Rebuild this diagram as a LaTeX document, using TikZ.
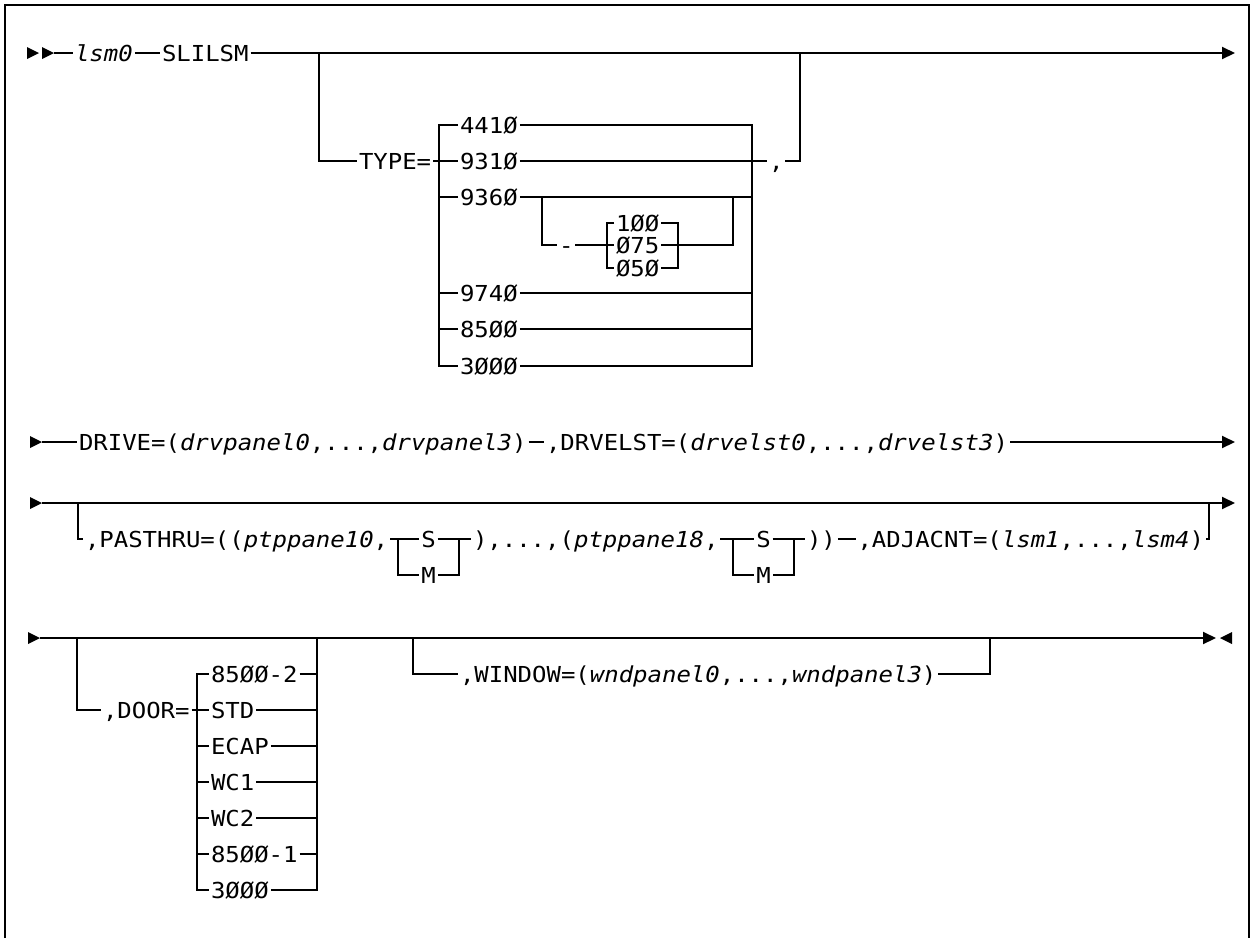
\documentclass[tikz,border=0pt]{standalone}
\usepackage{fontspec}
\usetikzlibrary{arrows.meta}
\newfontfamily\synfont[FakeStretch=1.09]{DejaVu Sans Mono}

\begin{document}
\begin{tikzpicture}[x=1pt, y=-1pt, line width=2pt,
		txt/.style={font=\synfont\fontsize{22pt}{24pt}\selectfont, inner xsep=1pt, inner ysep=0pt, text height=16pt, text depth=0pt, anchor=west},
		go/.style={-{Triangle[length=13pt,width=12pt]}},
		headmk/.pic={\fill (0,0) -- (-12,-6) -- (-12,6) -- cycle;},
		tailmk/.pic={\fill (0,0) -- (12,-6) -- (12,6) -- cycle;}]
		
		% Marco
		\useasboundingbox (0,0) rectangle (1253,938);
		\draw (5,938) |- (1249,5) -- (1249,938);
		
		% Fila 1: lsm0 SLILSM
		\pic at (39,53) {headmk};
		\pic at (54,53) {headmk};
		\coordinate (r1s) at (54,53);
		\coordinate (r1e) at (1235,53);
		\node[txt] (lsm) at (73,53) {\itshape lsm0};
		\node[txt] (slilsm) at (160,53) {SLILSM};
		\draw (r1s) -- (lsm.west);
		\draw (lsm.east) -- (slilsm.west);
		\draw[go] (slilsm.east) -- (r1e);
		
		% Rama TYPE=
		\coordinate (b1a) at (319,53);
		\coordinate (b1b) at (800,53);
		\coordinate (tl) at (439,125);
		\coordinate (tr) at (752,125);
		\node[txt] (type) at (357,161) {TYPE=};
		\foreach \lab/\yy [count=\i] in {441Ø/125,931Ø/161,936Ø/197,974Ø/293,85ØØ/329,3ØØØ/366}
		\node[txt] (t\i) at (458,\yy) {\lab};
		\node[txt] (comma) at (767,161) {,};
		\draw (b1a) |- (type.west);
		\draw (type.east) -- (t2.west);
		\draw (t1.west) -| (t6.west -| tl) -- (t6.west);
		\draw (t1.east) -| (t6.east -| tr) -- (t6.east);
		\foreach \i in {3,4,5} {
			\draw (t\i.west) -- (t\i.west -| tl);
			\draw (t\i.east) -- (t\i.east -| tr);
		}
		\draw (t2.east) -- (comma.west);
		\draw (comma.east) -| (b1b);
		
		% Subrama de 9360
		\coordinate (sb1) at (542,197);
		\coordinate (sb2) at (733,197);
		\coordinate (ul) at (607,223);
		\coordinate (ur) at (678,223);
		\node[txt] (dash) at (557,245) {-};
		\foreach \lab/\yy [count=\i] in {1ØØ/223,Ø75/245,Ø5Ø/268}
		\node[txt] (u\i) at (614,\yy) {\lab};
		\draw (sb1) |- (dash.west);
		\draw (dash.east) -- (u2.west);
		\draw (u1.west) -| (u3.west -| ul) -- (u3.west);
		\draw (u1.east) -| (u3.east -| ur) -- (u3.east);
		\draw (u2.east) -| (sb2);
		
		% Fila 2: DRIVE y DRVELST
		\pic at (42,442) {headmk};
		\coordinate (r2s) at (42,442);
		\coordinate (r2e) at (1235,442);
		\node[txt] (drive) at (77,442) {DRIVE=(\textit{drvpanel0},...,\textit{drvpanel3})};
		\node[txt] (drvelst) at (544,442) {,DRVELST=(\textit{drvelst0},...,\textit{drvelst3})};
		\draw (r2s) -- (drive.west);
		\draw (drive.east) -- (drvelst.west);
		\draw[go] (drvelst.east) -- (r2e);
		
		% Fila 3: PASTHRU y ADJACNT
		\pic at (42,503) {headmk};
		\coordinate (r3s) at (42,503);
		\coordinate (r3e) at (1235,503);
		\coordinate (b3a) at (78,503);
		\coordinate (b3b) at (1209,503);
		\coordinate (ka1) at (398,539);
		\coordinate (kb1) at (459,539);
		\coordinate (ka2) at (733,539);
		\coordinate (kb2) at (794,539);
		\draw[go] (r3s) -- (r3e);
		\node[txt] (pass) at (83,539) {,PASTHRU=((\textit{ptppane10},};
		\node[txt, anchor=center] (s1) at (428.5,539) {S};
		\node[txt, anchor=center] (m1) at (428.5,575) {M};
		\node[txt] (p2) at (471,539) {),...,(\textit{ptppane18},};
		\node[txt, anchor=center] (s2) at (763.5,539) {S};
		\node[txt, anchor=center] (m2) at (763.5,575) {M};
		\node[txt] (p3) at (805,539) {))};
		\node[txt, anchor=east] (adj) at (1206,539) {,ADJACNT=(\textit{lsm1},...,\textit{lsm4})};
		\draw (b3a) |- (pass.west);
		\draw (pass.east) -- (s1.west);
		\draw (s1.east) -- (p2.west);
		\draw (ka1) |- (m1.west);
		\draw (kb1) |- (m1.east);
		\draw (p2.east) -- (s2.west);
		\draw (s2.east) -- (p3.west);
		\draw (ka2) |- (m2.west);
		\draw (kb2) |- (m2.east);
		\draw (p3.east) -- (adj.west);
		\draw (adj.east) -| (b3b);
		
		% Fila 4: DOOR y WINDOW
		\pic at (40,638) {headmk};
		\pic at (1220,638) {tailmk};
		\coordinate (r4s) at (40,638);
		\coordinate (r4e) at (1216,638);
		\coordinate (b4a) at (77,638);
		\coordinate (dl) at (197,674);
		\coordinate (dr) at (317,638);
		\coordinate (b4b) at (413,638);
		\coordinate (b4c) at (990,638);
		\draw[go] (r4s) -- (r4e);
		\node[txt] (door) at (101,710) {,DOOR=};
		\foreach \lab [count=\i] in {85ØØ-2,STD,ECAP,WC1,WC2,85ØØ-1,3ØØØ}
		\node[txt] (d\i) at (209,{638+36*\i}) {\lab};
		\draw (b4a) |- (door.west);
		\draw (door.east) -- (d2.west);
		\draw (d1.west) -| (d7.west -| dl) -- (d7.west);
		\draw (dr) |- (d7.east);
		\foreach \i in {3,...,6}
		\draw (d\i.west) -- (d\i.west -| dl);
		\foreach \i in {1,...,6}
		\draw (d\i.east) -- (d\i.east -| dr);
		\node[txt] (win) at (458,674) {,WINDOW=(\textit{wndpanel0},...,\textit{wndpanel3})};
		\draw (b4b) |- (win.west);
		\draw (win.east) -| (b4c);
		
	\end{tikzpicture}
\end{document}
